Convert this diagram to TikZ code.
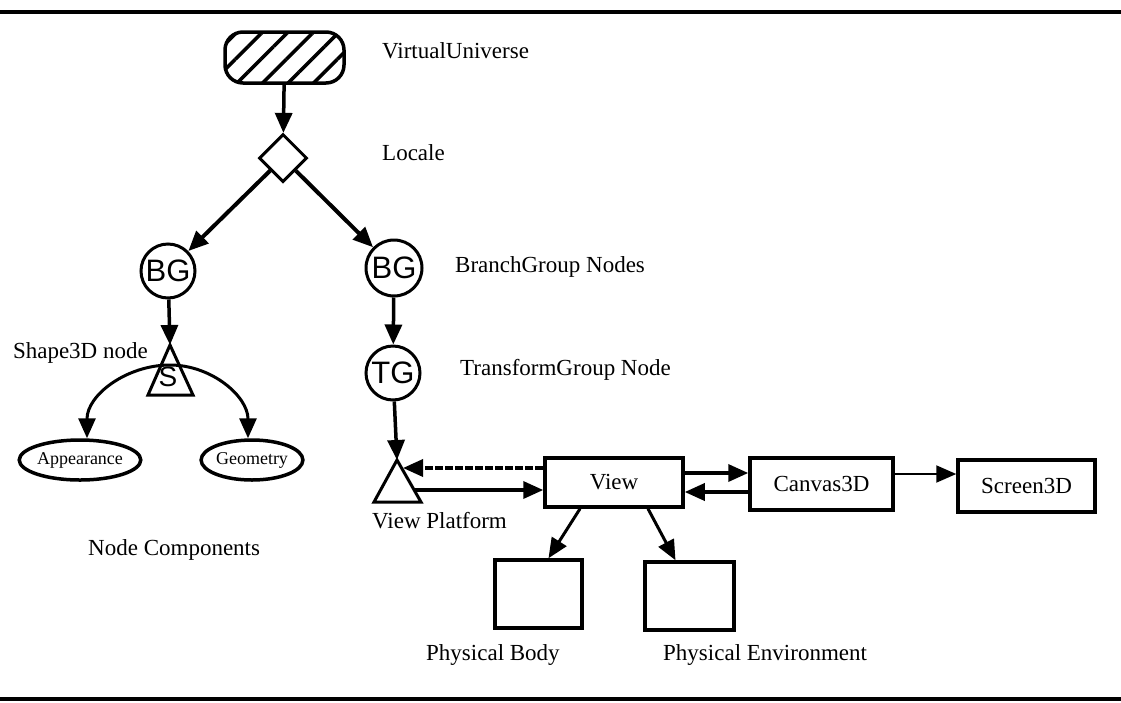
\documentclass[tikz,border=0pt]{standalone}
\usepackage{fontspec}
\setmainfont{Liberation Serif}
\newfontfamily\hsans{Liberation Sans}
\usetikzlibrary{arrows.meta,shapes.geometric,patterns.meta}
\begin{document}
\begin{tikzpicture}[x=1pt,y=-1pt,
  lbl/.style={anchor=base west,inner sep=0,font=\fontsize{23}{27}\selectfont},
  circ/.style={circle,draw,line width=3pt,minimum size=#1,inner sep=0,font=\hsans\fontsize{31}{33}\selectfont},
  circ/.default=54pt,
  boxn/.style={draw,line width=3.5pt,inner sep=0,font=\fontsize{23}{27}\selectfont},
  ell/.style={ellipse,draw,line width=3.5pt,inner sep=0,font=\fontsize{18}{20}\selectfont},
  arr/.style={line width=3.5pt,-{Triangle[length=20pt,width=17pt]}},
  arrthin/.style={line width=2pt,-{Triangle[length=20pt,width=17pt]}},
  tri/.style={line width=3pt,line join=miter}
]
\useasboundingbox (0,0) rectangle (1121,702);
% rules
\draw[line width=4pt] (0,12) -- (1121,12);
\draw[line width=3.5pt] (0,699) -- (1121,699);

% Virtual universe
\node[draw,line width=3.5pt,rounded corners=18pt,minimum width=119pt,minimum height=51pt,
  pattern={Lines[angle=45,distance=18pt,line width=3.5pt]}] (vu) at (284.5,57.5) {};
\node[lbl] (vul) at (382,58) {VirtualUniverse};

% Locale
\node[diamond,draw,line width=3pt,minimum width=48pt,minimum height=48pt,inner sep=0] (loc) at (283,158) {};
\node[lbl] (locl) at (382,160) {Locale};

% BranchGroups
\node[circ] (bg1) at (168,271) {BG};
\node[circ=56pt] (bg2) at (394,268) {BG};
\node[lbl] (bgl) at (455,272) {BranchGroup Nodes};

% TransformGroup
\node[circ] (tg) at (393,373) {TG};
\node[lbl] (tgl) at (460,375) {TransformGroup Node};

% Shape3D triangle
\draw[tri] (170,345) -- (193,395) -- (148,395) -- cycle;
\coordinate (sapex) at (170,345);
\coordinate (sarc) at (170,365);
\node[inner sep=0,font=\hsans\fontsize{28}{30}\selectfont] (s) at (168,377) {S};
\node[lbl,anchor=base east] (shl) at (148,358) {Shape3D node};

% Node components
\node[ell,minimum width=106pt,minimum height=40pt] (app) at (80,460) {Appearance};
\node[ell,minimum width=100pt,minimum height=40pt] (geo) at (252,460) {Geometry};
\node[lbl] (ncl) at (88,555) {Node Components};

% View platform triangle
\draw[tri] (397,460) -- (421,502) -- (374,502) -- cycle;
\coordinate (vpapex) at (397,460);
\coordinate (vpu) at (403,468);
\coordinate (vpl) at (414,490);
\node[lbl] (vpl2) at (372,528) {View Platform};

% View, Canvas3D, Screen3D
\node[boxn,minimum width=138pt,minimum height=49pt] (view) at (614,482.5) {View};
\node[boxn,minimum width=143pt,minimum height=52pt] (canvas) at (821.5,484) {Canvas3D};
\node[boxn,minimum width=137pt,minimum height=52pt] (screen) at (1026.5,486) {Screen3D};

% Physical body / environment
\node[draw,line width=3.5pt,minimum width=87pt,minimum height=68pt,inner sep=0] (pb) at (538.5,594) {};
\node[draw,line width=3.5pt,minimum width=89pt,minimum height=68pt,inner sep=0] (pe) at (689.5,596) {};
\node[lbl] (pbl) at (426,660) {Physical Body};
\node[lbl] (pel) at (663,660) {Physical Environment};

% connectors
\draw[arr] (vu) -- (loc);
\draw[arr,line width=4pt] (loc) -- (bg1);
\draw[arr,line width=4pt] (loc) -- (bg2);
\draw[arr] (bg1) -- (sapex);
\draw[arr,line width=3pt] (sarc) to[out=180,in=90] ([xshift=7pt]app.north);
\draw[arr,line width=3pt] (sarc) to[out=0,in=90] ([xshift=-4pt]geo.north);
\draw[arr] (bg2) -- (tg);
\draw[arr] (tg) -- (vpapex);
\draw[arr,dash pattern=on 8pt off 2pt] ([yshift=14.5pt]view.west) -- (vpu);
\draw[arr] (vpl) -- (vpl -| view.west);
\draw[arr] ([yshift=9.5pt]view.east) -- ([yshift=9.5pt]view.east -| canvas.west);
\draw[arr] ([yshift=-9.5pt]view.east -| canvas.west) -- ([yshift=-9.5pt]view.east);
\draw[arrthin] ([yshift=10pt]canvas.east) -- ([yshift=10pt]canvas.east -| screen.west);
\draw[arr,line width=3pt] ([xshift=-34pt]view.south) -- ([xshift=10pt]pb.north);
\draw[arr,line width=3pt] ([xshift=34pt]view.south) -- ([xshift=-14pt]pe.north);
\end{tikzpicture}
\end{document}
